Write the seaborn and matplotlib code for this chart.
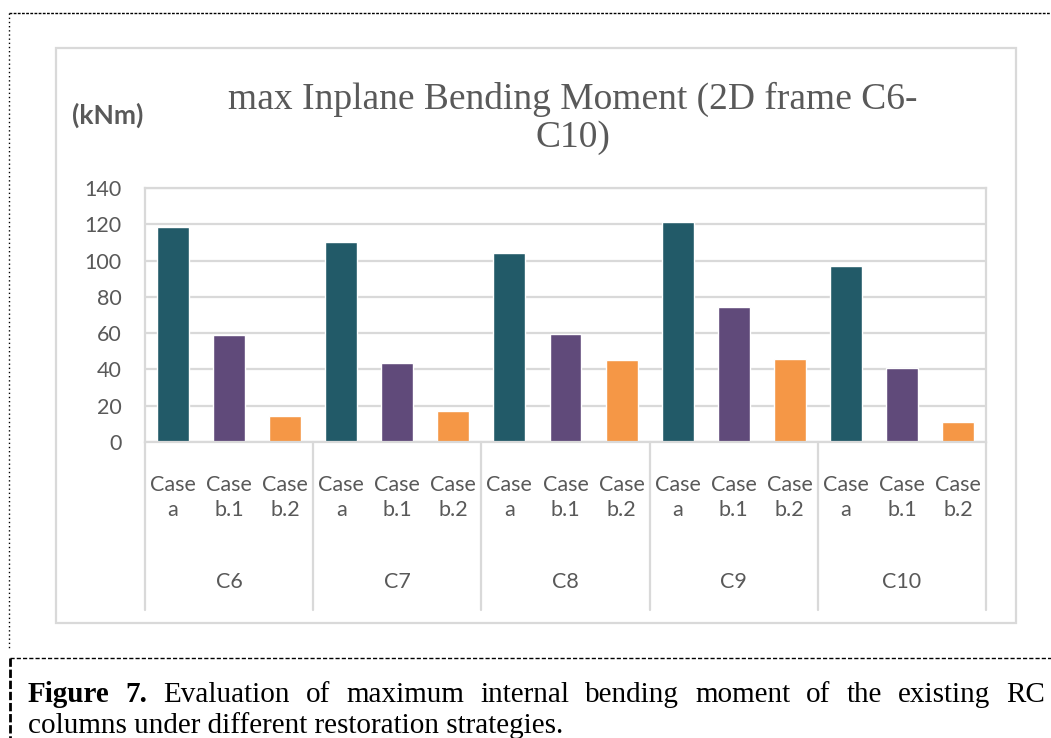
import pandas as pd
import matplotlib.pyplot as plt
from matplotlib.lines import Line2D
from matplotlib.patches import Rectangle
import seaborn as sns

# Data (kNm)
columns = ["C6", "C7", "C8", "C9", "C10"]
cases = ["Case a", "Case b.1", "Case b.2"]
case_a = [118.7, 110.0, 104.0, 121.3, 96.8]
case_b1 = [58.9, 43.5, 59.5, 74.3, 40.8]
case_b2 = [14.4, 17.2, 45.2, 45.7, 11.0]
case_labels = ["Case\na", "Case\nb.1", "Case\nb.2"]
yticks = [0, 20, 40, 60, 80, 100, 120, 140]
colors = ["#225A68", "#604A7A", "#F59746"]

title = "max Inplane Bending Moment (2D frame C6-\nC10)"
unit_label = "(kNm)"
caption_line1 = ["Figure", "7.", "Evaluation", "of", "maximum", "internal", "bending",
                 "moment", "of", "the", "existing", "RC"]
caption_line2 = "columns under different restoration strategies."

GRID = "#D9D9D9"
TEXT = "#595959"

# Long table, one slot per bar
rows = []
for i, col in enumerate(columns):
    for case, vals in zip(cases, [case_a, case_b1, case_b2]):
        rows.append({"slot": f"{col} {case}", "column": col, "case": case, "moment": vals[i]})
df = pd.DataFrame(rows)
slot_order = list(df["slot"])

sns.set_style("white")
plt.rcParams["font.family"] = ["Lato", "DejaVu Sans"]

W, H = 1051, 738
fig = plt.figure(figsize=(W / 100, H / 100), dpi=100)

def fx(px):
    return px / W

def fy(py):
    return 1 - py / H

# Chart frame
fig.patches.append(Rectangle((fx(56), fy(623)), fx(1016) - fx(56), fy(48) - fy(623),
                             transform=fig.transFigure, fill=False, edgecolor=GRID, lw=1.6))

ax = fig.add_axes([fx(145), fy(442), fx(986) - fx(145), fy(188) - fy(442)])
sns.barplot(data=df, x="slot", y="moment", hue="case", order=slot_order, hue_order=cases,
            palette=colors, dodge=False, width=0.57, legend=False, ax=ax, saturation=1)

ax.set_xlim(-0.5, len(slot_order) - 0.5)
ax.set_ylim(0, 140)
ax.set_yticks(yticks)
ax.tick_params(axis="y", length=0, pad=17, labelsize=15.5, labelcolor=TEXT)
ax.set_xticks([])
ax.set_xlabel("")
ax.set_ylabel("")
ax.yaxis.grid(True, color=GRID, lw=1.6)
ax.set_axisbelow(True)
for sp in ax.spines.values():
    sp.set_color(GRID)
    sp.set_linewidth(1.6)

# Two-level category labels
trans = ax.get_xaxis_transform()
for j, slot in enumerate(slot_order):
    ax.text(j, -0.218, case_labels[j % 3], transform=trans, ha="center", va="center",
            fontsize=15.5, color=TEXT, linespacing=1.35)
for i, col in enumerate(columns):
    ax.text(3 * i + 1, -0.551, col, transform=trans, ha="center", va="center",
            fontsize=15.5, color=TEXT)
for b in range(len(columns) + 1):
    ax.add_line(Line2D([3 * b - 0.5, 3 * b - 0.5], [0, -0.661], transform=trans,
                       color=GRID, lw=1.6, clip_on=False))

fig.text(fx(573), fy(147), title, ha="center", va="baseline", fontsize=27,
         family="Liberation Serif", color=TEXT, linespacing=1.15)
fig.text(fx(72), fy(115), unit_label, ha="left", va="center", fontsize=19,
         fontweight="bold", color=TEXT)

# Document frame lines
fig.add_artist(Line2D([fx(9), 1], [fy(13), fy(13)], color="black", lw=1.0, ls=(0, (2, 1))))
fig.add_artist(Line2D([fx(9), fx(9)], [fy(13), fy(650)], color="black", lw=1.0, ls=(0, (1, 2))))
fig.add_artist(Line2D([fx(10), 1], [fy(658), fy(658)], color="black", lw=1.0, ls=(0, (3, 1.5))))
fig.add_artist(Line2D([fx(10), fx(10)], [fy(658), 0], color="black", lw=2.0, ls=(0, (3, 1))))

# Caption, first line justified
cap_size = 21
renderer = fig.canvas.get_renderer()
words = []
for k, w in enumerate(caption_line1):
    t = fig.text(0, fy(702), w, ha="left", va="baseline", fontsize=cap_size,
                 family="Liberation Serif", color="black",
                 fontweight="bold" if k < 2 else "normal")
    words.append(t)
widths = [t.get_window_extent(renderer).width for t in words]
left, right = 28, 1045
gap = (right - left - sum(widths)) / (len(words) - 1)
x = left
for t, wd in zip(words, widths):
    t.set_x(fx(x))
    x += wd + gap
fig.text(fx(28), fy(733), caption_line2, ha="left", va="baseline", fontsize=cap_size,
         family="Liberation Serif", color="black")

fig.savefig("out.png", dpi=100)
